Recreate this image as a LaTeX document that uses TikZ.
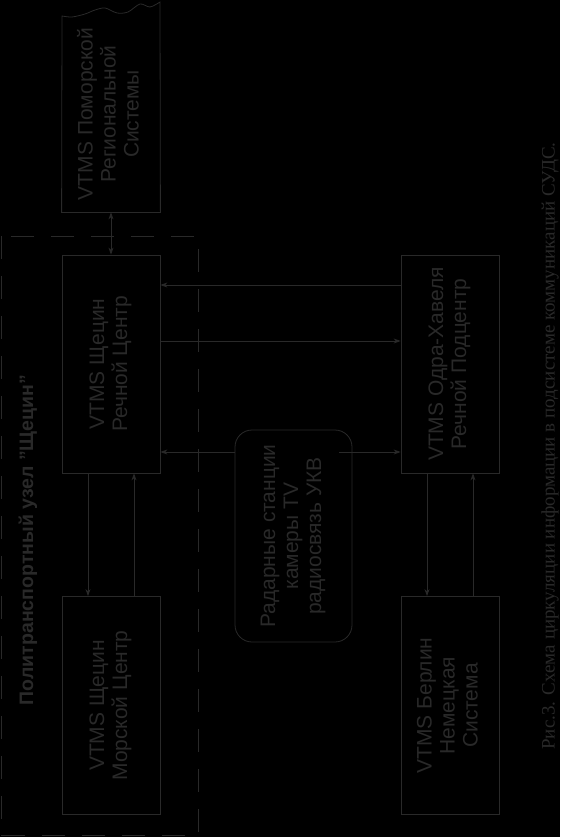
\documentclass[tikz,border=0pt]{standalone}
\usepackage{graphicx}
\usepackage{fontspec}
\setmainfont{Liberation Sans}
\newfontfamily\capfont{Liberation Serif}
\usetikzlibrary{arrows.meta,calc}
\colorlet{tusk}{black!84}
\tikzset{
  fg/.style={draw=tusk, line width=.8pt},
  blok/.style={fg, minimum width=98pt, minimum height=218pt, inner sep=0pt,
    text=tusk, font=\fontsize{21}{23}\selectfont},
  radar/.style={blok, rounded corners=17pt, minimum width=117pt, minimum height=212pt},
  arr/.style={fg, -{Stealth[length=7pt,width=5pt]}},
  arrs/.style={fg, {Stealth[length=7pt,width=5pt]}-{Stealth[length=7pt,width=5pt]}},
  ramka/.style={draw=tusk, line width=.8pt, dash pattern=on 23pt off 17pt}
}
\newcommand{\vtxt}[1]{\rotatebox{90}{\begin{tabular}{@{}c@{}}#1\end{tabular}}}
\begin{document}
\begin{tikzpicture}[x=1pt,y=-1pt]
\fill[black] (0,0) rectangle (560,837);
% uzel Szczecin
\draw[ramka] (1,236) rectangle (198,835.5);
\node[rotate=90, text=tusk, font=\bfseries\fontsize{19.5}{22}\selectfont] (uzel) at (28,540)
  {Политранспортный узел "Щецин"};
% bloki
\foreach \nm/\x/\y/\txt in {rc/111/364/{VTMS Щецин\\Речной Центр},
    mc/111/705.5/{VTMS Щецин\\Морской Центр},
    oh/450/364/{VTMS Одра-Хавеля\\Речной Подцентр},
    bn/450/705.5/{VTMS Берлин\\Немецкая\\Система}}{
  \node[blok] (\nm) at (\x,\y) {\vtxt{\txt}};
}
\node[blok, draw=none, minimum height=196pt] (pom) at (111,114)
  {\vtxt{VTMS Поморской\\Региональной\\Системы}};
\draw[fg] plot[smooth] coordinates {(160,2) (150,7) (140,4) (128,12) (117,13) (105,8) (95,10) (85,14) (72,17) (62,16)}
  -- (pom.south west) -- (pom.south east) -- cycle;
\node[radar] (rad) at (293.5,536) {\vtxt{Радарные станции\\камеры TV\\радиосвязь УКВ}};
% svyazi
\draw[arrs] (pom.south) -- (rc.north);
\draw[arr] ([yshift=79pt]oh.west) -- ([yshift=79pt]rc.east);
\draw[arr] ([yshift=23pt]rc.east) -- ([yshift=23pt]oh.west);
\coordinate (r1) at ([yshift=-88pt]rc.east);
\draw[arr] (rad.west |- r1) -- (r1);
\draw[arr, shorten <=-13pt] (rad.east |- r1) -- (oh.west |- r1);
\foreach \a/\b in {rc/mc,oh/bn}{
  \draw[arr] ([xshift=-23pt]\a.south) -- ([xshift=-23pt]\b.north);
  \draw[arr] ([xshift=23pt]\b.north) -- ([xshift=23pt]\a.south);
}
\node[rotate=90, text=tusk, font=\capfont\fontsize{19}{22}\selectfont] (cap) at (550,446)
  {Рис.3. Схема циркуляции информации в подсистеме коммуникаций СУДС.};
\end{tikzpicture}
\end{document}
